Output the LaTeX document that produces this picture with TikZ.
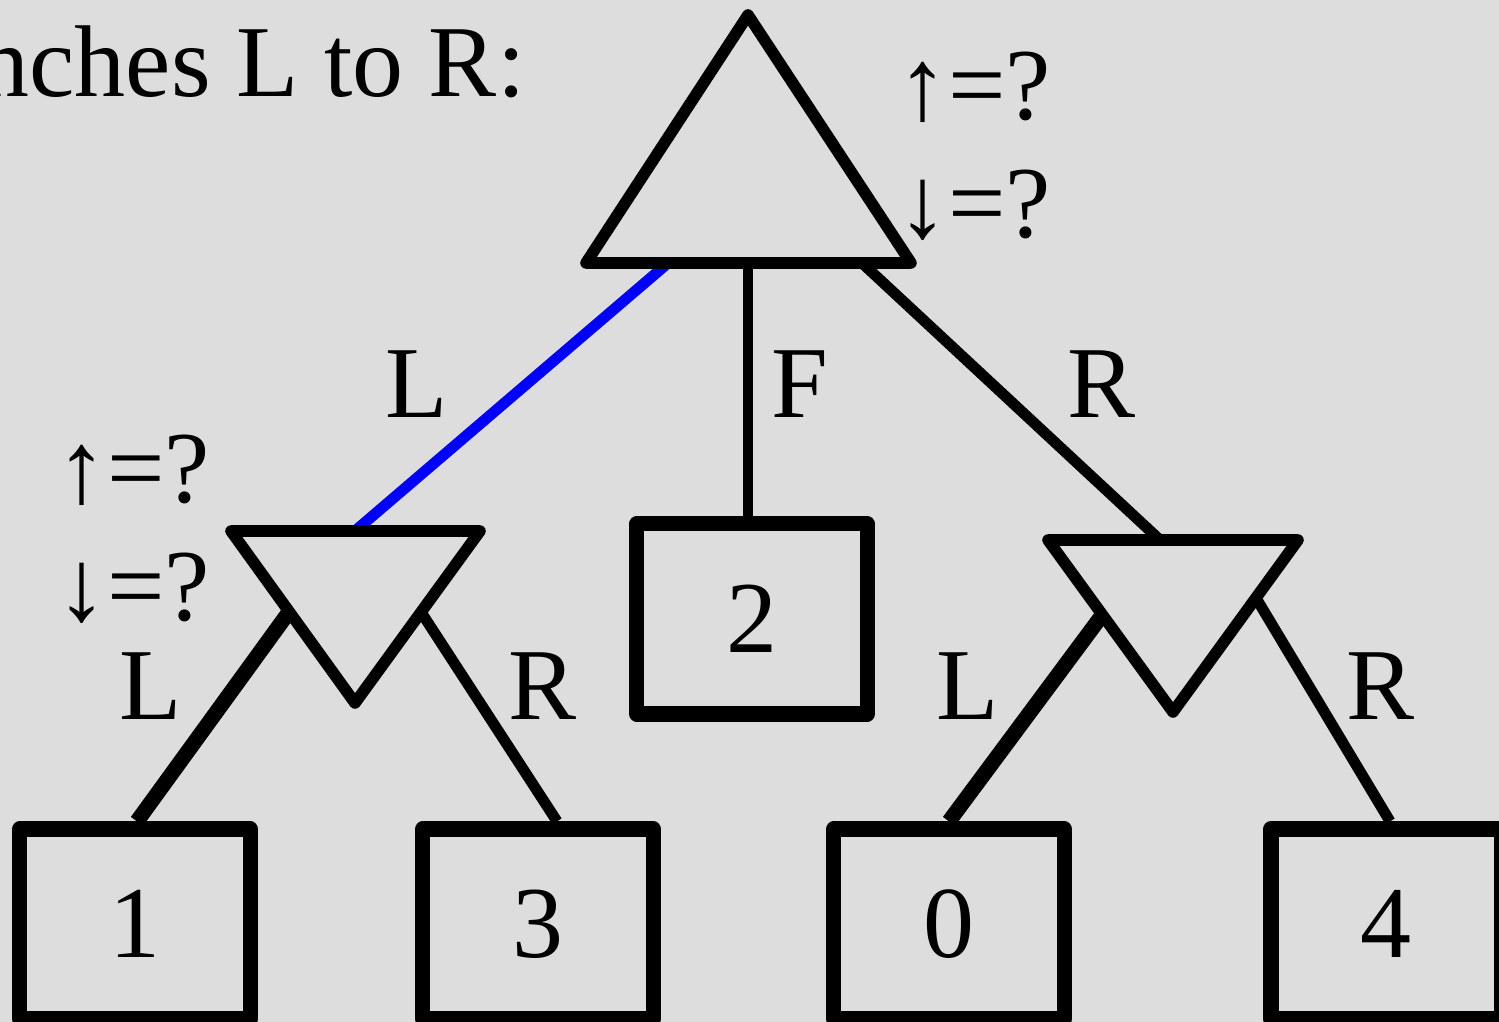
\documentclass[tikz,border=0pt]{standalone}
\usepackage{fontspec}
\setmainfont{Liberation Serif}
\usetikzlibrary{positioning}
\definecolor{bggray}{RGB}{221,221,221}
\definecolor{pathblue}{RGB}{0,0,255}
\tikzset{
  leaf/.style={draw, line width=4.3pt, line join=round, minimum width=2.3cm,
    minimum height=1.9cm, inner sep=0pt, font=\fontsize{29}{34}\selectfont},
  tri/.style={draw, line width=3.3pt, line join=round},
  branch/.style={line width=3.1pt},
  firstbranch/.style={line width=4.3pt},
  lbl/.style={anchor=base, inner sep=0pt, font=\fontsize{29}{34}\selectfont},
}
\begin{document}
\begin{tikzpicture}[x=0.01cm, y=-0.01cm]
  \fill[bggray] (0,0) rectangle (1499,1022);
  \useasboundingbox (0,0) rectangle (1499,1022);
  \clip (0,0) rectangle (1499,1022);

  % max node (top)
  \coordinate (maxtop) at (748,15);
  \coordinate (maxbl) at (586,263);
  \coordinate (maxbr) at (911,263);
  \coordinate (maxL) at (668,263);
  \coordinate (maxF) at (748,263);
  \coordinate (maxR) at (862,263);

  % min nodes
  \coordinate (lmina) at (231,531);
  \coordinate (lminb) at (480,531);
  \coordinate (lminc) at (355,703);
  \coordinate (lminT) at (355,531);
  \coordinate (lminL) at (289,612);
  \coordinate (lminR) at (421,612);

  \coordinate (rmina) at (1048,540);
  \coordinate (rminb) at (1298,540);
  \coordinate (rminc) at (1173,712);
  \coordinate (rminT) at (1160,540);
  \coordinate (rminL) at (1103,614);
  \coordinate (rminR) at (1256,598);

  % leaves
  \node[leaf] (b2) at (752,619) {2};
  \node[leaf] (b1) at (135,924) {1};
  \node[leaf] (b3) at (538,924) {3};
  \node[leaf] (b0) at (949,924) {0};
  \node[leaf] (b4) at (1386,924) {4};

  % branches
  \draw[pathblue, line width=3.1pt] (maxL) -- (lminT);
  \draw[branch] (maxF) -- (b2.north -| maxF);
  \draw[branch] (maxR) -- (rminT);
  \draw[firstbranch] (lminL) -- ([xshift=0.02cm]b1.north);
  \draw[branch] (lminR) -- ([xshift=0.19cm]b3.north);
  \draw[firstbranch] (rminL) -- (b0.north);
  \draw[branch] (rminR) -- ([xshift=0.04cm]b4.north);

  \draw[tri] (maxtop) -- (maxbl) -- (maxbr) -- cycle;
  \draw[tri] (lmina) -- (lminb) -- (lminc) -- cycle;
  \draw[tri] (rmina) -- (rminb) -- (rminc) -- cycle;

  % labels
  \node[lbl, anchor=base east] (title) at (526,97) {nches L to R:};
  \node[lbl] (lblmaxL) at (417,418) {L};
  \node[lbl] (lblmaxF) at (800,418) {F};
  \node[lbl] (lblmaxR) at (1102,418) {R};
  \node[lbl] (lbllL) at (151,720) {L};
  \node[lbl] (lbllR) at (543,720) {R};
  \node[lbl] (lblrL) at (968,720) {L};
  \node[lbl] (lblrR) at (1381,720) {R};
  \node[lbl] (maxup) at (974,120) {↑=?};
  \node[lbl] (maxdown) at (974,238) {↓=?};
  \node[lbl] (minup) at (133,503) {↑=?};
  \node[lbl] (mindown) at (133,621) {↓=?};
\end{tikzpicture}
\end{document}
